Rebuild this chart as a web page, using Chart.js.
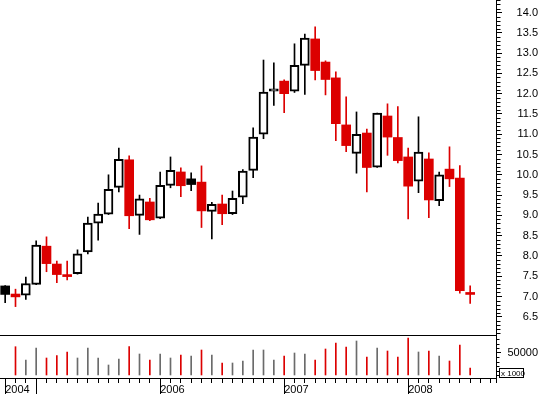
<!DOCTYPE html>
<html><head><meta charset="utf-8">
<script src="https://cdn.jsdelivr.net/npm/chart.js@4.4.1/dist/chart.umd.min.js"></script>
<style>html,body{margin:0;padding:0;background:#fff;}canvas{display:block;}</style>
</head><body>
<canvas id="c" width="542" height="395"></canvas>
<script>
// Monthly categories (Oct 2004 .. Sep 2008); last two slots are empty
const months = [
 '2004-10','2004-11','2004-12',
 '2005-01','2005-02','2005-03','2005-04','2005-05','2005-06','2005-07','2005-08','2005-09','2005-10','2005-11','2005-12',
 '2006-01','2006-02','2006-03','2006-04','2006-05','2006-06','2006-07','2006-08','2006-09','2006-10','2006-11','2006-12',
 '2007-01','2007-02','2007-03','2007-04','2007-05','2007-06','2007-07','2007-08','2007-09','2007-10','2007-11','2007-12',
 '2008-01','2008-02','2008-03','2008-04','2008-05','2008-06','2008-07','2008-08','2008-09'
];
const opens  = [7.26,7.06,7.03,7.30,8.24,7.80,7.52,7.56,8.10,8.81,9.03,9.69,10.37,9.00,9.33,8.93,9.74,10.07,9.90,9.82,9.10,9.28,9.04,9.45,10.11,11.00,12.06,12.31,12.06,12.70,13.35,12.78,12.39,11.23,10.53,11.03,10.19,11.45,10.92,10.44,9.84,10.39,9.36,10.14,9.92,7.06];
const highs  = [7.27,7.18,7.48,8.37,8.47,7.87,7.87,8.15,8.96,9.30,10.00,10.66,10.47,9.50,9.42,10.07,10.44,10.17,10.05,10.22,9.32,9.50,9.60,10.13,11.16,12.83,12.76,12.34,13.23,13.47,13.65,12.81,12.54,11.92,11.55,11.13,11.52,11.75,11.68,10.66,11.43,10.54,10.07,10.69,10.23,7.26];
const lows   = [6.85,6.75,6.93,7.29,7.61,7.34,7.41,7.55,8.05,8.39,9.02,9.58,8.67,8.53,8.87,8.92,9.68,9.46,9.61,8.70,8.42,8.77,9.02,9.29,9.93,10.89,11.71,11.53,12.03,11.98,12.34,11.97,10.84,10.57,10.04,9.58,10.18,10.48,10.29,8.91,9.56,8.94,9.24,9.71,7.08,6.83];
const closes = [7.05,6.99,7.32,8.27,7.81,7.54,7.49,8.05,8.81,9.03,9.64,10.38,8.99,9.41,8.89,9.74,10.11,9.73,9.76,9.11,9.27,9.04,9.42,10.09,10.93,12.04,12.12,12.00,12.70,13.37,12.57,12.35,11.26,10.72,11.00,10.18,11.52,10.93,10.35,9.72,10.56,9.38,10.00,9.90,7.14,7.05];
// volume in thousands
const volumes = [null,63450,33630,60530,38110,43270,51570,38110,60530,38110,22420,35870,63450,47080,33630,47080,38110,44840,42600,56050,44840,26900,26900,31390,56050,56050,33630,42600,49320,47080,33630,58290,71740,62780,76230,40360,60530,53810,40360,82950,51570,53810,42600,31390,67260,15690];

const priceTicks = [6.5,7.0,7.5,8.0,8.5,9.0,9.5,10.0,10.5,11.0,11.5,12.0,12.5,13.0,13.5,14.0];
const volumeTicks = [50000];
const yearLabelIdx = [0,15,27,39];
const yearLabelText = ['2004','2006','2007','2008'];
const yearLineIdx = [0,3,15,27,39];

const RED = '#dc0000', INK = '#000000', GREY = '#6b6b6b';
const FONT = '"Liberation Sans", Arial, sans-serif';
Chart.defaults.font.family = FONT;
Chart.defaults.font.size = 11;
Chart.defaults.color = '#000';

const isUp = closes.map((c,i)=> c >= opens[i]);
const isDown = closes.map((c,i)=> i>0 && c < closes[i-1]);
const bodyFill = closes.map((c,i)=> isUp[i] ? '#ffffff' : (isDown[i] ? RED : INK));
const bodyBorder = closes.map((c,i)=> isDown[i] ? RED : INK);
const bodyBW = closes.map((c,i)=> isUp[i] ? 2 : 0);
const wickColor = closes.map((c,i)=> isDown[i] ? RED : INK);
const volColor = closes.map((c,i)=> isDown[i] ? RED : GREY);
const xLabels = months.map((m,i)=>{ const k = yearLabelIdx.indexOf(i); return k>=0 ? yearLabelText[k] : ''; });

function noPad(s){ s.paddingTop = 0; s.paddingBottom = 0; s.paddingLeft = 0; s.paddingRight = 0; }

const decor = {
  id: 'decor',
  afterDraw(chart){
    const c = chart.ctx, x = chart.scales.x, y = chart.scales.y, yv = chart.scales.yv;
    c.save();
    c.strokeStyle = '#000'; c.lineWidth = 1;
    const ax = Math.round(y.left) + 0.5;
    c.beginPath();
    for (let k = 61; k <= 143; k++) {
      if (k % 5 === 0) continue;
      const py = Math.round(y.getPixelForValue(k/10)) + 0.5;
      c.moveTo(ax, py); c.lineTo(ax + 4, py);
    }
    for (let v = 0; v <= 80000; v += 10000) {
      if (volumeTicks.includes(v)) continue;
      const py = Math.round(yv.getPixelForValue(v)) + 0.5;
      c.moveTo(ax, py); c.lineTo(ax + 3, py);
    }
    const sy = Math.round(yv.top) + 0.5;
    c.moveTo(chart.chartArea.left, sy); c.lineTo(ax, sy);
    for (const i of yearLineIdx) {
      const px = Math.round(x.getPixelForValue(i)) + 0.5;
      c.moveTo(px, x.top); c.lineTo(px, x.top + 16);
    }
    c.moveTo(ax, x.top); c.lineTo(ax, x.top + 5);
    c.stroke();
    const bx = Math.round(yv.left) + 3.5, by = Math.round(yv.bottom) - 9.5;
    c.fillStyle = '#fff'; c.fillRect(bx, by, 24, 9);
    c.strokeRect(bx, by, 24, 9);
    c.fillStyle = '#000'; c.font = '8px ' + FONT; c.textBaseline = 'middle'; c.textAlign = 'left';
    c.fillText('x 1000', bx + 1.5, by + 5);
    c.restore();
  }
};

new Chart(document.getElementById('c').getContext('2d'), {
  type: 'bar',
  data: {
    labels: months,
    datasets: [
      { label: 'body', data: opens.map((o,i)=>[o, closes[i]]), yAxisID: 'y',
        backgroundColor: bodyFill, borderColor: bodyBorder, borderWidth: bodyBW, borderSkipped: false,
        barThickness: 9, minBarLength: 2, grouped: false, order: 0 },
      { label: 'wick', data: lows.map((l,i)=>[l, highs[i]]), yAxisID: 'y',
        backgroundColor: wickColor, barThickness: 1, grouped: false, order: 1 },
      { label: 'volume', data: volumes, yAxisID: 'yv',
        backgroundColor: volColor, barThickness: 1, grouped: false, order: 2 }
    ]
  },
  options: {
    responsive: false, animation: false, events: [],
    layout: { padding: { left: 0, top: 0, bottom: 0, right: 4 } },
    plugins: { legend: { display: false }, tooltip: { enabled: false } },
    scales: {
      x: {
        type: 'category', offset: true,
        grid: { drawOnChartArea: false, drawTicks: true, tickLength: 5, offset: false, color: '#000', tickColor: '#000' },
        border: { display: true, color: '#000', width: 1 },
        ticks: { autoSkip: false, maxRotation: 0, minRotation: 0, align: 'start', padding: 0, color: '#000',
                 callback: (v, i) => xLabels[i] },
        afterFit: s => { s.height = 17; noPad(s); }
      },
      y: {
        type: 'linear', position: 'right', stack: 'right', stackWeight: 335,
        min: 6.05, max: 14.31,
        grid: { drawOnChartArea: false, tickLength: 6, tickColor: '#000' },
        border: { display: true, color: '#000', width: 1 },
        ticks: { autoSkip: false, crossAlign: 'far', padding: 0, color: '#000', callback: v => Number(v).toFixed(1) },
        afterBuildTicks: s => { s.ticks = priceTicks.map(v => ({ value: v })); },
        afterFit: s => { s.width = 42; noPad(s); }
      },
      yv: {
        type: 'linear', position: 'right', stack: 'right', stackWeight: 43,
        min: -6726, max: 89686,
        grid: { drawOnChartArea: false, tickLength: 5, tickColor: '#000' },
        border: { display: true, color: '#000', width: 1 },
        ticks: { autoSkip: false, crossAlign: 'far', padding: 0, color: '#000', callback: v => String(v) },
        afterBuildTicks: s => { s.ticks = volumeTicks.map(v => ({ value: v })); },
        afterFit: s => { s.width = 42; noPad(s); }
      }
    }
  },
  plugins: [decor]
});
</script>
</body></html>
